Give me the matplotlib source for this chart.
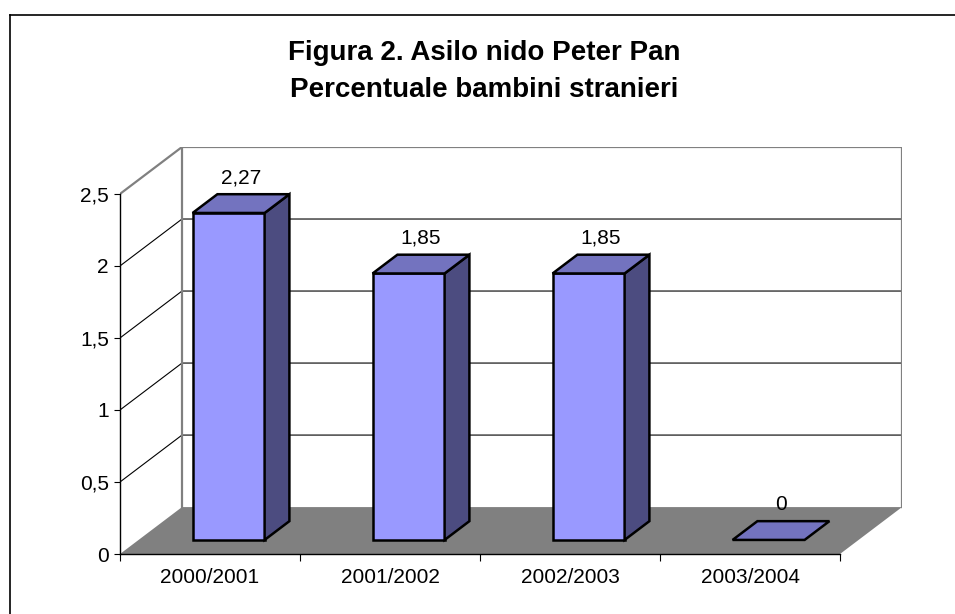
import matplotlib.pyplot as plt
from matplotlib.patches import Polygon
from matplotlib.lines import Line2D

categories = ["2000/2001", "2001/2002", "2002/2003", "2003/2004"]
values = [2.27, 1.85, 1.85, 0]
value_labels = ["2,27", "1,85", "1,85", "0"]
y_ticks = [0, 0.5, 1, 1.5, 2, 2.5]
y_tick_labels = ["0", "0,5", "1", "1,5", "2", "2,5"]

plt.rcParams['font.family'] = ['Liberation Sans', 'DejaVu Sans']

# oblique offset of the back wall (data units)
DX = 62 / 180
DY = 47 / 144.3
d0, d1 = 0.3, 0.7   # bar depth, as fraction of the floor depth
bw = 0.4            # bar width in category units

front_col = '#9999FF'
top_col = '#7373BF'
side_col = '#4C4C80'

fig = plt.figure(figsize=(9.55, 6.14), dpi=100)
ax = fig.add_axes([120 / 955, 60 / 614, 782 / 955, 407 / 614])
ymax = y_ticks[-1]
ncat = len(categories)
ax.set_xlim(0, ncat + DX)
ax.set_ylim(0, ymax + DY)
ax.patch.set_visible(False)


def pt(x, v, d):
    return (x + d * DX, v + d * DY)


# floor
ax.add_patch(Polygon([(0, 0), (ncat, 0), (ncat + DX, DY), (DX, DY)], closed=True,
                     fc='#808080', ec='none', zorder=1))

# gridlines on side and back wall
for v in y_ticks[1:-1]:
    ax.plot([0, DX, ncat + DX], [v, v + DY, v + DY], color='black', lw=0.8, zorder=1)

# wall frame
ax.plot([0, DX, ncat + DX, ncat + DX], [ymax, ymax + DY, ymax + DY, DY],
        color='#808080', lw=1.6, zorder=1)
ax.plot([DX, DX], [DY, ymax + DY], color='#808080', lw=1.6, zorder=1)

# bars
for i, v in enumerate(values):
    x0 = i + 0.5 - bw / 2
    x1 = i + 0.5 + bw / 2
    if v > 0:
        front = [pt(x0, 0, d0), pt(x1, 0, d0), pt(x1, v, d0), pt(x0, v, d0)]
        side = [pt(x1, 0, d0), pt(x1, 0, d1), pt(x1, v, d1), pt(x1, v, d0)]
        ax.add_patch(Polygon(front, closed=True, fc=front_col, ec='black', lw=1.8, zorder=3))
        ax.add_patch(Polygon(side, closed=True, fc=side_col, ec='black', lw=1.8, zorder=3))
    top = [pt(x0, v, d0), pt(x1, v, d0), pt(x1, v, d1), pt(x0, v, d1)]
    ax.add_patch(Polygon(top, closed=True, fc=top_col, ec='black', lw=1.8, zorder=3))
    ax.annotate(value_labels[i], xy=(i + 0.5 + 0.5 * DX, v + d1 * DY),
                xytext=(0, 8), textcoords='offset points',
                ha='center', va='baseline', fontsize=15, annotation_clip=False)

# axes
for s in ['top', 'right']:
    ax.spines[s].set_visible(False)
ax.spines['left'].set_bounds(0, ymax)
ax.spines['bottom'].set_bounds(0, ncat)
ax.spines['left'].set_linewidth(1.0)
ax.spines['bottom'].set_linewidth(1.0)
ax.spines['left'].set_zorder(4)
ax.spines['bottom'].set_zorder(4)

ax.set_yticks(y_ticks)
ax.set_yticklabels(y_tick_labels, fontsize=15)
ax.tick_params(axis='y', direction='out', length=4, width=0.8, pad=4)

ax.set_xticks(range(ncat + 1))
ax.set_xticklabels([''] * (ncat + 1))
ax.tick_params(axis='x', which='major', direction='out', length=5, width=0.8)
ax.set_xticks([i + 0.5 for i in range(ncat)], minor=True)
ax.set_xticklabels(categories, minor=True, fontsize=15)
ax.tick_params(axis='x', which='minor', length=0, pad=10)

# title
fig.text(0.507, 1 - 60 / 614, "Figura 2. Asilo nido Peter Pan",
         ha='center', va='baseline', fontsize=20, fontweight='bold')
fig.text(0.507, 1 - 97 / 614, "Percentuale bambini stranieri",
         ha='center', va='baseline', fontsize=20, fontweight='bold')

# outer chart border
fig.add_artist(Line2D([10 / 955, 1], [1 - 15 / 614, 1 - 15 / 614],
                      transform=fig.transFigure, color='black', lw=1.2))
fig.add_artist(Line2D([10 / 955, 10 / 955], [0, 1 - 15 / 614],
                      transform=fig.transFigure, color='black', lw=1.2))

fig.savefig('out.png', dpi=100)
